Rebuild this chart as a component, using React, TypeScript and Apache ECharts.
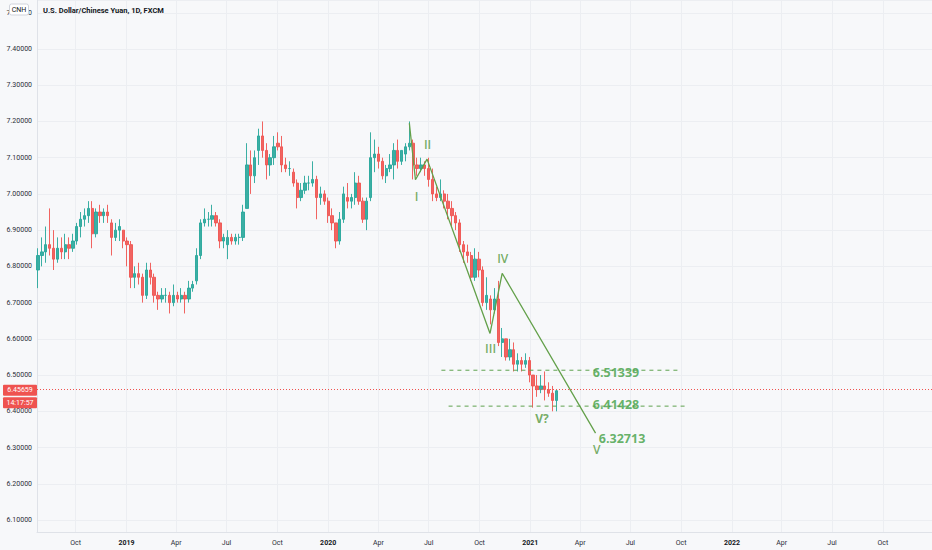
import React, { useEffect, useRef } from 'react';
import * as echarts from 'echarts';

// [date (mid-week), open, high, low, close] — weekly bars
type Bar = [string, number, number, number, number];

const BARS_2018: Bar[] = [
  ['2018-07-25', 6.79, 6.85, 6.74, 6.83],
  ['2018-08-01', 6.83, 6.88, 6.80, 6.84],
  ['2018-08-08', 6.84, 6.91, 6.81, 6.86],
  ['2018-08-15', 6.86, 6.96, 6.83, 6.85],
  ['2018-08-22', 6.85, 6.90, 6.79, 6.82],
  ['2018-08-29', 6.82, 6.88, 6.81, 6.85],
  ['2018-09-05', 6.85, 6.88, 6.82, 6.84],
  ['2018-09-12', 6.84, 6.89, 6.82, 6.86],
  ['2018-09-19', 6.86, 6.88, 6.82, 6.85],
  ['2018-09-26', 6.85, 6.89, 6.84, 6.87],
  ['2018-10-03', 6.87, 6.92, 6.86, 6.91],
  ['2018-10-10', 6.91, 6.95, 6.88, 6.93],
  ['2018-10-17', 6.93, 6.96, 6.91, 6.94],
  ['2018-10-24', 6.94, 6.98, 6.92, 6.96],
  ['2018-10-31', 6.96, 6.98, 6.85, 6.89],
  ['2018-11-07', 6.89, 6.96, 6.88, 6.95],
  ['2018-11-14', 6.95, 6.97, 6.92, 6.94],
  ['2018-11-21', 6.94, 6.96, 6.92, 6.95],
  ['2018-11-28', 6.95, 6.97, 6.92, 6.94],
  ['2018-12-05', 6.92, 6.93, 6.83, 6.88],
  ['2018-12-12', 6.88, 6.92, 6.87, 6.90],
  ['2018-12-19', 6.90, 6.93, 6.87, 6.91],
  ['2018-12-26', 6.90, 6.90, 6.85, 6.87],
];

const BARS_2019: Bar[] = [
  ['2019-01-02', 6.87, 6.88, 6.80, 6.86],
  ['2019-01-09', 6.86, 6.87, 6.74, 6.77],
  ['2019-01-16', 6.77, 6.80, 6.74, 6.78],
  ['2019-01-23', 6.78, 6.81, 6.75, 6.77],
  ['2019-01-30', 6.77, 6.78, 6.70, 6.72],
  ['2019-02-06', 6.72, 6.81, 6.71, 6.79],
  ['2019-02-13', 6.79, 6.81, 6.75, 6.77],
  ['2019-02-20', 6.77, 6.78, 6.70, 6.72],
  ['2019-02-27', 6.72, 6.73, 6.68, 6.71],
  ['2019-03-06', 6.71, 6.74, 6.70, 6.72],
  ['2019-03-13', 6.72, 6.74, 6.70, 6.72],
  ['2019-03-20', 6.72, 6.73, 6.67, 6.70],
  ['2019-03-27', 6.70, 6.75, 6.69, 6.72],
  ['2019-04-03', 6.72, 6.73, 6.70, 6.71],
  ['2019-04-10', 6.71, 6.74, 6.70, 6.72],
  ['2019-04-17', 6.72, 6.73, 6.67, 6.71],
  ['2019-04-24', 6.71, 6.76, 6.70, 6.74],
  ['2019-05-01', 6.74, 6.76, 6.73, 6.75],
  ['2019-05-08', 6.76, 6.85, 6.75, 6.83],
  ['2019-05-15', 6.83, 6.93, 6.82, 6.92],
  ['2019-05-22', 6.92, 6.96, 6.91, 6.93],
  ['2019-05-29', 6.93, 6.95, 6.91, 6.93],
  ['2019-06-05', 6.93, 6.97, 6.91, 6.94],
  ['2019-06-12', 6.94, 6.95, 6.91, 6.92],
  ['2019-06-19', 6.92, 6.93, 6.85, 6.87],
  ['2019-06-26', 6.87, 6.89, 6.85, 6.88],
  ['2019-07-03', 6.86, 6.90, 6.82, 6.88],
  ['2019-07-10', 6.88, 6.89, 6.86, 6.87],
  ['2019-07-17', 6.87, 6.89, 6.86, 6.88],
  ['2019-07-24', 6.88, 6.89, 6.86, 6.88],
  ['2019-07-31', 6.88, 6.97, 6.87, 6.95],
  ['2019-08-07', 6.96, 7.14, 6.96, 7.08],
  ['2019-08-14', 7.08, 7.12, 7.00, 7.05],
  ['2019-08-21', 7.05, 7.12, 7.03, 7.10],
  ['2019-08-28', 7.12, 7.18, 7.08, 7.16],
  ['2019-09-04', 7.16, 7.20, 7.10, 7.12],
  ['2019-09-11', 7.12, 7.14, 7.04, 7.08],
  ['2019-09-18', 7.08, 7.11, 7.05, 7.10],
  ['2019-09-25', 7.10, 7.16, 7.08, 7.13],
  ['2019-10-02', 7.14, 7.17, 7.12, 7.13],
  ['2019-10-09', 7.13, 7.16, 7.06, 7.08],
  ['2019-10-16', 7.08, 7.10, 7.06, 7.07],
  ['2019-10-23', 7.07, 7.09, 7.05, 7.07],
  ['2019-10-30', 7.06, 7.07, 7.02, 7.03],
  ['2019-11-06', 7.03, 7.04, 6.96, 6.99],
  ['2019-11-13', 6.99, 7.03, 6.98, 7.01],
  ['2019-11-20', 7.01, 7.05, 7.00, 7.03],
  ['2019-11-27', 7.03, 7.05, 7.01, 7.03],
  ['2019-12-04', 7.03, 7.09, 7.02, 7.04],
  ['2019-12-11', 7.04, 7.05, 6.93, 6.99],
  ['2019-12-18', 6.99, 7.02, 6.97, 7.00],
  ['2019-12-25', 7.00, 7.01, 6.97, 6.98],
];

const BARS_2020: Bar[] = [
  ['2020-01-01', 6.98, 6.99, 6.92, 6.94],
  ['2020-01-08', 6.94, 6.96, 6.90, 6.92],
  ['2020-01-15', 6.92, 6.92, 6.85, 6.87],
  ['2020-01-22', 6.87, 6.95, 6.86, 6.93],
  ['2020-01-29', 6.93, 7.02, 6.92, 7.00],
  ['2020-02-05', 6.99, 7.03, 6.96, 6.98],
  ['2020-02-12', 6.98, 7.00, 6.96, 6.99],
  ['2020-02-19', 6.99, 7.06, 6.97, 7.03],
  ['2020-02-26', 7.03, 7.05, 6.97, 6.98],
  ['2020-03-04', 6.98, 6.99, 6.92, 6.93],
  ['2020-03-11', 6.93, 6.99, 6.90, 6.98],
  ['2020-03-18', 6.99, 7.17, 6.98, 7.10],
  ['2020-03-25', 7.10, 7.15, 7.06, 7.11],
  ['2020-04-01', 7.11, 7.13, 7.07, 7.09],
  ['2020-04-08', 7.09, 7.10, 7.04, 7.05],
  ['2020-04-15', 7.05, 7.08, 7.03, 7.07],
  ['2020-04-22', 7.07, 7.11, 7.06, 7.08],
  ['2020-04-29', 7.08, 7.14, 7.04, 7.12],
  ['2020-05-06', 7.12, 7.15, 7.07, 7.09],
  ['2020-05-13', 7.09, 7.12, 7.08, 7.12],
  ['2020-05-20', 7.11, 7.14, 7.09, 7.13],
  ['2020-05-27', 7.13, 7.20, 7.12, 7.14],
  ['2020-06-03', 7.14, 7.15, 7.04, 7.08],
  ['2020-06-10', 7.08, 7.10, 7.05, 7.07],
  ['2020-06-17', 7.07, 7.10, 7.06, 7.08],
  ['2020-06-24', 7.08, 7.09, 7.05, 7.07],
  ['2020-07-01', 7.07, 7.10, 7.02, 7.04],
  ['2020-07-08', 7.04, 7.07, 6.98, 7.00],
  ['2020-07-15', 7.00, 7.02, 6.98, 6.99],
  ['2020-07-22', 6.99, 7.04, 6.98, 7.00],
  ['2020-07-29', 7.00, 7.01, 6.96, 6.98],
  ['2020-08-05', 6.98, 7.00, 6.93, 6.96],
  ['2020-08-12', 6.96, 6.98, 6.91, 6.94],
  ['2020-08-19', 6.94, 6.95, 6.90, 6.92],
  ['2020-08-26', 6.92, 6.93, 6.84, 6.86],
  ['2020-09-02', 6.86, 6.87, 6.81, 6.84],
  ['2020-09-09', 6.84, 6.86, 6.81, 6.83],
  ['2020-09-16', 6.83, 6.84, 6.76, 6.77],
  ['2020-09-23', 6.77, 6.85, 6.76, 6.82],
  ['2020-09-30', 6.82, 6.84, 6.77, 6.79],
  ['2020-10-07', 6.79, 6.80, 6.69, 6.70],
  ['2020-10-14', 6.70, 6.77, 6.68, 6.72],
  ['2020-10-21', 6.71, 6.72, 6.64, 6.68],
  ['2020-10-28', 6.68, 6.74, 6.67, 6.71],
  ['2020-11-04', 6.71, 6.76, 6.58, 6.59],
  ['2020-11-11', 6.59, 6.63, 6.55, 6.60],
  ['2020-11-18', 6.60, 6.60, 6.54, 6.55],
  ['2020-11-25', 6.55, 6.60, 6.54, 6.57],
  ['2020-12-02', 6.57, 6.59, 6.51, 6.53],
  ['2020-12-09', 6.53, 6.56, 6.51, 6.54],
  ['2020-12-16', 6.54, 6.55, 6.51, 6.53],
  ['2020-12-23', 6.53, 6.56, 6.52, 6.54],
  ['2020-12-30', 6.54, 6.55, 6.48, 6.50],
];

const BARS_2021: Bar[] = [
  ['2021-01-06', 6.50, 6.50, 6.41, 6.47],
  ['2021-01-13', 6.47, 6.50, 6.44, 6.46],
  ['2021-01-20', 6.46, 6.50, 6.45, 6.47],
  ['2021-01-27', 6.47, 6.51, 6.43, 6.46],
  ['2021-02-03', 6.46, 6.48, 6.44, 6.45],
  ['2021-02-10', 6.45, 6.47, 6.40, 6.43],
  ['2021-02-17', 6.43, 6.46, 6.40, 6.45659],
];

const TITLE = 'U.S. Dollar/Chinese Yuan, 1D, FXCM';
const SYMBOL = 'CNH';
const LAST_PRICE = 6.45659;
const LAST_TIME = '14:17:57';

// Elliott wave annotation: [date, price]
const WAVE_PATH: [string, number][] = [
  ['2020-05-27', 7.195],
  ['2020-06-07', 7.039],
  ['2020-06-28', 7.096],
  ['2020-10-20', 6.615],
  ['2020-11-11', 6.781],
  ['2021-04-29', 6.340],
];
const WAVE_LABELS: [string, number, string][] = [
  ['2020-06-09', 6.994, 'I'],
  ['2020-06-29', 7.137, 'II'],
  ['2020-10-21', 6.573, 'III'],
  ['2020-11-12', 6.822, 'IV'],
  ['2021-01-22', 6.381, 'V?'],
  ['2021-05-01', 6.295, 'V'],
];
const LEVEL_HIGH = 6.51339;
const LEVEL_LOW = 6.41428;
const TARGET = 6.32713;
const LEVEL_HIGH_SPAN: [string, string] = ['2020-07-24', '2021-09-29'];
const LEVEL_LOW_SPAN: [string, string] = ['2020-08-06', '2021-10-11'];
const PRICE_LABELS: [string, number, number][] = [
  ['2021-06-05', 6.508, LEVEL_HIGH],
  ['2021-06-05', 6.419, LEVEL_LOW],
  ['2021-06-16', 6.326, TARGET],
];

const X_MIN = '2018-07-23';
const X_MAX = '2022-12-29';
const Y_MIN = 6.0669;
const Y_MAX = 7.5352;
const MONTHS = ['Jan', 'Feb', 'Mar', 'Apr', 'May', 'Jun', 'Jul', 'Aug', 'Sep', 'Oct', 'Nov', 'Dec'];

const UP = '#26a69a';
const DOWN = '#ef5350';
const WAVE_COLOR = '#63a04a';
const WAVE_TEXT = '#55983f';
const LEVEL_COLOR = '#5fa24f';
const LABEL_GREEN = '#3f9f43';
const BG = '#f7f8fa';
const GRID = '#eceef2';
const AXIS = '#dfe2e8';
const TEXT = '#2a2e39';

export default function App() {
  const ref = useRef<HTMLDivElement>(null);

  useEffect(() => {
    if (!ref.current) return;
    const chart = echarts.init(ref.current, undefined, { renderer: 'svg' });
    const bars = [...BARS_2018, ...BARS_2019, ...BARS_2020, ...BARS_2021];
    const candles = bars.map((b) => [b[0], b[1], b[4], b[3], b[2]]);

    const option: any = {
      animation: false,
      backgroundColor: BG,
      textStyle: { fontFamily: 'Roboto, sans-serif' },
      grid: { left: 37, right: 0, top: 0, bottom: 18 },
      xAxis: {
        type: 'time',
        min: X_MIN,
        max: X_MAX,
        splitNumber: 17,
        axisLine: { show: true, lineStyle: { color: AXIS } },
        axisTick: { show: false },
        splitLine: { show: true, lineStyle: { color: GRID } },
        axisLabel: {
          fontSize: 7,
          color: TEXT,
          margin: 7,
          hideOverlap: false,
          formatter: (v: number) => {
            const d = new Date(v);
            const m = d.getMonth();
            if (m === 0) return '{y|' + d.getFullYear() + '}';
            return '{m|' + MONTHS[m] + '}';
          },
          rich: {
            y: { fontSize: 7, fontWeight: 'bold', color: '#131722' },
            m: { fontSize: 7, color: TEXT },
          },
        },
      },
      yAxis: {
        type: 'value',
        position: 'left',
        min: Y_MIN,
        max: Y_MAX,
        splitNumber: 14,
        minInterval: 0.1,
        maxInterval: 0.1,
        axisLine: { show: true, lineStyle: { color: AXIS } },
        axisTick: { show: false },
        splitLine: { show: true, lineStyle: { color: GRID } },
        axisLabel: {
          fontSize: 7,
          color: TEXT,
          margin: 5,
          showMinLabel: false,
          showMaxLabel: false,
          formatter: (v: number) => v.toFixed(5),
        },
      },
      series: [
        {
          name: 'USDCNH',
          type: 'candlestick',
          data: candles,
          encode: { x: 0, y: [1, 2, 3, 4] },
          barWidth: 2.8,
          itemStyle: {
            color: UP,
            color0: DOWN,
            borderColor: UP,
            borderColor0: DOWN,
            borderWidth: 1,
            opacity: 0.9,
          },
          markLine: {
            silent: true,
            symbol: ['none', 'none'],
            label: { show: false },
            lineStyle: { color: DOWN, type: [1, 2], width: 1 },
            data: [{ yAxis: LAST_PRICE }],
          },
        },
        {
          name: 'wave',
          type: 'line',
          data: WAVE_PATH,
          symbol: 'none',
          lineStyle: { color: WAVE_COLOR, width: 1.3 },
          z: 5,
        },
        {
          name: 'levelHigh',
          type: 'line',
          data: [
            [LEVEL_HIGH_SPAN[0], LEVEL_HIGH],
            [LEVEL_HIGH_SPAN[1], LEVEL_HIGH],
          ],
          symbol: 'none',
          lineStyle: { color: LEVEL_COLOR, width: 1, type: [4, 4] },
          z: 5,
        },
        {
          name: 'levelLow',
          type: 'line',
          data: [
            [LEVEL_LOW_SPAN[0], LEVEL_LOW],
            [LEVEL_LOW_SPAN[1], LEVEL_LOW],
          ],
          symbol: 'none',
          lineStyle: { color: LEVEL_COLOR, width: 1, type: [4, 4] },
          z: 5,
        },
        {
          name: 'waveLabels',
          type: 'scatter',
          symbolSize: 1,
          itemStyle: { color: 'rgba(0,0,0,0)' },
          data: WAVE_LABELS.map((w) => ({
            value: [w[0], w[1]],
            label: {
              show: true,
              position: 'inside',
              formatter: w[2],
              color: WAVE_TEXT,
              fontSize: 12,
              fontFamily: 'Open Sans',
              fontWeight: w[2] === 'V?' ? 'bold' : 600,
            },
          })),
          z: 6,
        },
        {
          name: 'priceLabels',
          type: 'scatter',
          symbolSize: 1,
          itemStyle: { color: 'rgba(0,0,0,0)' },
          data: PRICE_LABELS.map((p) => ({
            value: [p[0], p[1]],
            label: {
              show: true,
              position: 'inside',
              formatter: p[2].toFixed(5),
              color: LABEL_GREEN,
              fontSize: 12.5,
              fontFamily: 'Open Sans',
              fontWeight: 'bold',
            },
          })),
          z: 6,
        },
      ],
    };
    chart.setOption(option);

    const py = chart.convertToPixel({ yAxisIndex: 0 }, LAST_PRICE) as number;
    chart.setOption({
      graphic: [
        {
          type: 'text',
          left: 43,
          top: 6,
          z: 100,
          style: { text: TITLE, fill: '#131722', font: 'bold 7.5px Roboto, sans-serif' },
        },
        {
          type: 'rect',
          z: 100,
          shape: { x: 9.5, y: 4, width: 19, height: 11, r: 2 },
          style: { fill: '#ffffff', stroke: '#d1d4dc', lineWidth: 1 },
        },
        {
          type: 'text',
          z: 101,
          x: 19,
          y: 9.8,
          style: { text: SYMBOL, fill: '#131722', font: '7px Roboto, sans-serif', align: 'center', verticalAlign: 'middle' },
        },
        {
          type: 'rect',
          z: 100,
          shape: { x: 3, y: py - 6, width: 34, height: 11, r: 1 },
          style: { fill: DOWN },
        },
        {
          type: 'text',
          z: 101,
          x: 20,
          y: py - 0.5,
          style: { text: LAST_PRICE.toFixed(5), fill: '#ffffff', font: '7px Roboto, sans-serif', align: 'center', verticalAlign: 'middle' },
        },
        {
          type: 'rect',
          z: 100,
          shape: { x: 3, y: py + 6.5, width: 34, height: 11, r: 1 },
          style: { fill: DOWN },
        },
        {
          type: 'text',
          z: 101,
          x: 20,
          y: py + 12,
          style: { text: LAST_TIME, fill: '#ffffff', font: '7px Roboto, sans-serif', align: 'center', verticalAlign: 'middle' },
        },
      ],
    });

    return () => chart.dispose();
  }, []);

  return (
    <div
      ref={ref}
      style={{ position: 'fixed', left: 0, top: 0, width: 932, height: 550 }}
    />
  );
}
